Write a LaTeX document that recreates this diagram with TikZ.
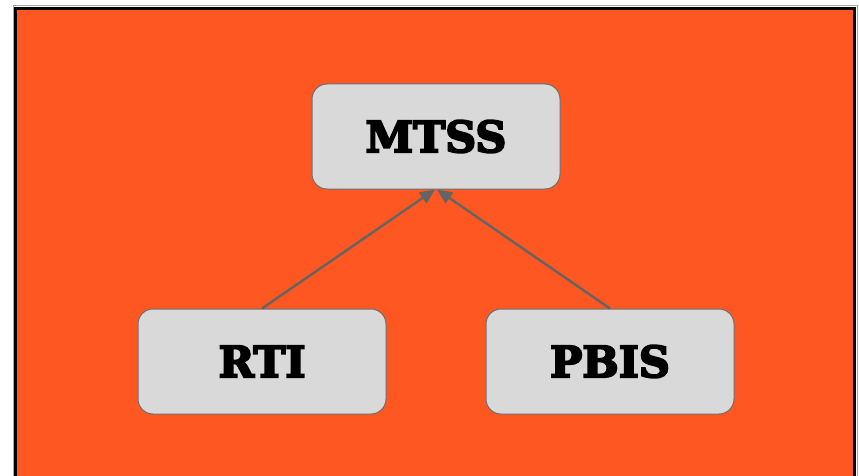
\documentclass[tikz,border=0pt]{standalone}
\usepackage{fontspec}
\setmainfont{DejaVu Serif}
\newfontfamily\heavyslab{DejaVu Serif}[BoldFont={* Bold}, BoldFeatures={FakeBold=4.5}]
\usetikzlibrary{arrows.meta}
\definecolor{bgorange}{RGB}{255,87,34}
\definecolor{boxfill}{RGB}{217,217,217}
\definecolor{boxline}{RGB}{110,110,110}
\definecolor{linkgray}{RGB}{100,100,100}
\tikzset{
  term/.style={draw=boxline, line width=1pt, fill=boxfill, rounded corners=15pt,
    minimum width=248pt, minimum height=105pt, inner sep=0pt,
    font=\heavyslab\fontsize{43}{47}\selectfont\bfseries},
  link/.style={draw=linkgray, line width=2.4pt,
    -{Triangle[length=15pt 0, width=13pt 0]}}
}
\begin{document}
\begin{tikzpicture}[x=1pt,y=-1pt]
  \useasboundingbox (0,0) rectangle (859,476);
  \clip (0,0) rectangle (859,476);
  % frame
  \draw[draw=gray!70, line width=1pt, fill=white] (13,6) rectangle (857,490);
  \draw[draw=black, line width=3pt, fill=bgorange] (15.5,8.5) rectangle (854.5,490);
  % boxes
  \node[term] (mtss) at (436,136.5) {MTSS};
  \node[term] (rti)  at (262,361.5) {RTI};
  \node[term] (pbis) at (610,361.5) {PBIS};
  % connectors
  \draw[link] (rti.north) -- ([xshift=-1pt]mtss.south);
  \draw[link] (pbis.north) -- ([xshift=1pt]mtss.south);
\end{tikzpicture}
\end{document}
